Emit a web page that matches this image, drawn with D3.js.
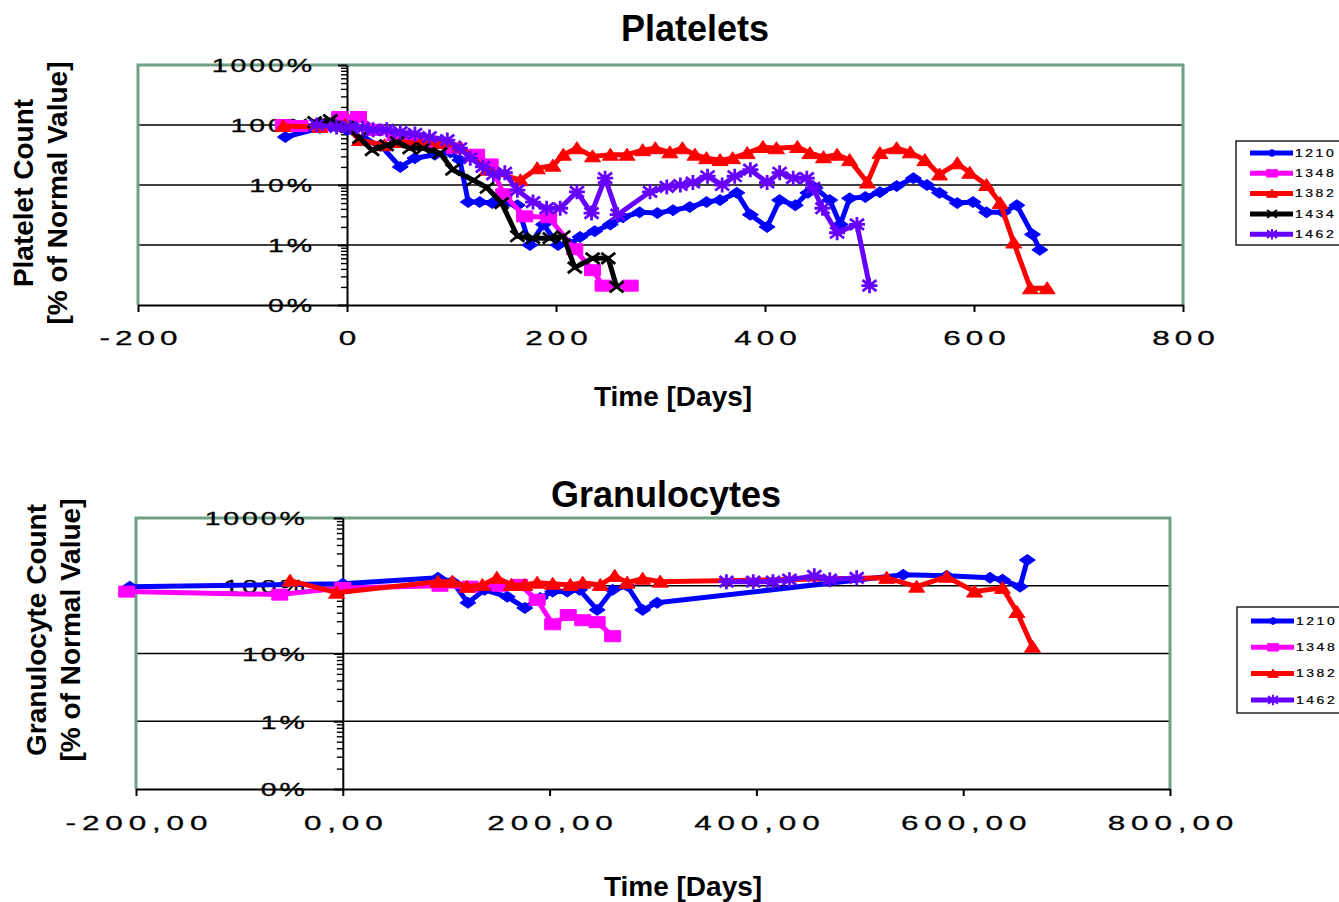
<!DOCTYPE html>
<html>
<head>
<meta charset="utf-8">
<script src="https://cdn.jsdelivr.net/npm/d3@7"></script>
<style>
  body { margin: 0; background: #fff; }
  svg { display: block; font-family: "Liberation Sans", Arial, sans-serif; }
</style>
</head>
<body>
<div id="chart"></div>
<script>
// platelet counts, [day, % of normal value]
const plt1210 = [[-59,63],[-26,89],[0,83],[17,56],[32,46],[51,20],[65,28],[84,32],[99,35],[108,26],[116,5.2],[127,5.2],[139,5.0],[151,5.0],[163,4.6],[175,1.0],[188,2.2],[202,1.0],[213,1.05],[223,1.36],[237,1.7],[252,2.2],[264,2.9],[280,3.5],[297,3.4],[312,3.8],[328,4.3],[344,5.2],[357,5.6],[373,7.4],[386,3.2],[402,2.0],[414,5.6],[429,4.6],[441,7.4],[448,9.0],[462,5.6],[472,2.2],[481,6.0],[496,6.3],[510,7.6],[526,9.6],[542,13],[555,10],[567,7.4],[584,5.0],[599,5.2],[612,3.5],[628,3.5],[641,4.6],[656,1.5],[663,0.83]];
const plt1348 = [[-61,100],[-45,96],[-26,100],[-7,136],[11,136],[27,83],[46,68],[65,56],[84,50],[103,41],[124,32],[137,22],[150,7],[170,3.0],[193,2.9],[218,0.85],[235,0.38],[245,0.21],[271,0.21]];
const plt1382 = [[-61,96],[-26,93],[-2,100],[12,56],[36,46],[51,52],[70,50],[89,50],[108,43],[134,18],[166,12],[182,19],[197,21],[207,32],[220,41],[235,30],[252,32],[268,32],[283,38],[295,41],[309,35],[321,41],[333,32],[344,28],[357,26],[369,28],[383,34],[398,43],[411,41],[431,43],[443,34],[456,29],[469,32],[481,26],[498,11],[510,34],[526,41],[539,35],[553,26],[567,15],[584,23],[596,16],[612,10],[625,5.0],[638,1.1],[654,0.19],[670,0.19]];
const plt1434 = [[-31,112],[-16,121],[0,93],[12,61],[24,38],[38,46],[48,52],[60,41],[73,41],[89,34],[101,18],[121,12],[134,9],[148,5.0],[163,1.4],[178,1.3],[194,1.3],[207,1.4],[218,0.42],[235,0.6],[250,0.6],[258,0.2]];
const plt1462 = [[-29,100],[-10,93],[3,93],[15,89],[25,83],[38,83],[51,76],[65,71],[79,63],[96,56],[108,41],[118,28],[130,20],[140,15],[151,16],[163,8.2],[178,5.2],[191,4.1],[204,4.1],[220,7.7],[234,3.4],[247,13],[259,3.2],[290,7.7],[306,9.3],[319,10],[331,11],[345,14],[359,10],[371,14],[386,18],[402,11],[414,16],[427,13],[440,13],[446,9],[455,4.1],[469,1.6],[488,2.2],[500,0.21]];

// granulocyte counts, [day, % of normal value]
const gran1210 = [[-206,97],[0,107],[92,131],[106,115],[121,56],[137,87],[159,69],[176,47],[191,66],[203,82],[217,82],[229,87],[246,44],[261,87],[275,100],[290,44],[304,56],[542,145],[584,140],[626,131],[638,123],[655,97],[662,240]];
const gran1348 = [[-209,82],[-61,74],[0,93],[94,100],[123,97],[152,100],[171,103],[188,62],[203,27],[218,37],[232,31],[246,29],[261,18]];
const gran1382 = [[-51,119],[-6,79],[92,115],[106,115],[120,97],[135,103],[149,131],[163,103],[176,103],[188,111],[203,107],[220,103],[232,111],[249,103],[263,140],[275,111],[290,127],[307,115],[526,131],[555,97],[584,136],[611,82],[638,93],[652,41],[667,12.6]];
const gran1462 = [[371,115],[397,115],[416,115],[432,123],[456,140],[471,123],[497,131]];

const seriesIds = ["1210", "1348", "1382", "1434", "1462"];
const seriesColors = ["#0000ff", "#ff00ff", "#ff0000", "#000000", "#6600ff"];
const seriesMarks = ["diamond", "square", "triangle", "cross", "star"];

const xTicks = [-200, 0, 200, 400, 600, 800];
const yTicks = [0.1, 1, 10, 100, 1000];
const yTickLabels = ["0%", "1%", "10%", "100%", "1000%"];

const width = 1339, height = 902;
const frameColor = "#6f9f85";

const svg = d3.select("#chart").append("svg")
  .attr("width", width)
  .attr("height", height);

// marker shapes, centred on the point
const markers = {
  diamond:  { d: "M-8,0L0,-5.5L8,0L0,5.5Z", filled: true },
  square:   { d: "M-8,-5.5H8V5.5H-8Z", filled: true },
  triangle: { d: "M-8,5.5L0,-6.5L8,5.5Z", filled: true },
  cross:    { d: "M-7,-5.5L7,5.5M-7,5.5L7,-5.5", filled: false },
  star:     { d: "M-7,-5.5L7,5.5M-7,5.5L7,-5.5M0,-7.5V7.5M-8,0H8", filled: false }
};

function addMarker(sel, mark, color, k) {
  const m = markers[mark];
  sel.append("path")
    .attr("d", m.d)
    .attr("transform", k ? `scale(${k})` : null)
    .attr("fill", m.filled ? color : "none")
    .attr("stroke", color)
    .attr("stroke-width", m.filled ? 1 : 2.8);
}

// wide, stretched label text like the original export
function stretch(sel, size, spacing, sx) {
  sel.attr("font-family", "'Liberation Sans', Arial, sans-serif")
    .attr("font-size", size)
    .attr("letter-spacing", spacing + "px")
    .attr("fill", "#000")
    .attr("stroke", "#000")
    .attr("stroke-width", 0.3)
    .attr("transform", `scale(${sx},1)`);
}

function drawPanel(p) {
  const x = d3.scaleLinear().domain([-200, 800]).range([p.left, p.right]);
  const y = d3.scaleLog().domain([0.1, 1000]).range([p.bottom, p.top]);
  const g = svg.append("g");

  // gridlines
  g.append("g").selectAll("line")
    .data([1, 10, 100])
    .join("line")
      .attr("x1", p.left).attr("x2", p.right)
      .attr("y1", d => y(d)).attr("y2", d => y(d))
      .attr("stroke", "#000")
      .attr("stroke-width", 1.6);

  // frame: left, top and right sides
  g.append("path")
    .attr("d", `M${p.left},${p.bottom}V${p.top}H${p.right}V${p.bottom}`)
    .attr("fill", "none")
    .attr("stroke", frameColor)
    .attr("stroke-width", 3);

  // x axis
  const xAxis = g.append("g")
    .attr("transform", `translate(0,${p.bottom})`)
    .call(d3.axisBottom(x).tickValues(xTicks).tickSize(7).tickSizeOuter(0).tickFormat(p.xFmt));
  xAxis.select(".domain").attr("stroke-width", 2);
  xAxis.selectAll(".tick line").attr("stroke-width", 2);
  xAxis.selectAll(".tick text")
    .call(stretch, 21, p.xSpacing, 1.5)
    .attr("y", p.xLabelY)
    .attr("dy", "0.36em")
    .attr("dx", p.xSpacing / 2);

  // minor log ticks
  const minor = [];
  [0.1, 1, 10, 100].forEach(b => { for (let k = 2; k <= 9; k++) minor.push(b * k); });
  const yMinor = g.append("g")
    .attr("transform", `translate(${x(0)},0)`)
    .call(d3.axisLeft(y).tickValues(minor).tickSize(6).tickFormat(""));
  yMinor.select(".domain").remove();
  yMinor.selectAll(".tick line").attr("stroke-width", 1.4);

  // y axis at day 0
  const yAxis = g.append("g")
    .attr("transform", `translate(${x(0)},0)`)
    .call(d3.axisLeft(y).tickValues(yTicks).tickSize(9).tickSizeOuter(0)
      .tickFormat((d, i) => yTickLabels[i]));
  yAxis.select(".domain").attr("stroke-width", 2);
  yAxis.selectAll(".tick text")
    .call(stretch, 19, 1.9, 1.5)
    .attr("x", -p.yLabelGap / 1.5 + 1.9)
    .attr("dy", "0.36em");
  yAxis.selectAll(".tick line").attr("stroke-width", 2);

  // series
  const line = d3.line().x(d => x(d[0])).y(d => y(d[1]));
  p.series.forEach(s => {
    g.append("path")
      .datum(s.data)
      .attr("d", line)
      .attr("fill", "none")
      .attr("stroke", s.color)
      .attr("stroke-width", 5)
      .attr("stroke-linejoin", "round");
    g.append("g").selectAll("g")
      .data(s.data)
      .join("g")
        .attr("transform", d => `translate(${x(d[0])},${y(d[1])})`)
        .each(function() { addMarker(d3.select(this), s.mark, s.color); });
  });

  // titles
  svg.append("text")
    .attr("x", p.titleX).attr("y", p.titleY)
    .attr("text-anchor", "middle")
    .attr("font-size", 36).attr("font-weight", "bold")
    .text(p.title);
  svg.append("text")
    .attr("x", p.xTitleX).attr("y", p.xTitleY)
    .attr("text-anchor", "middle")
    .attr("font-size", 28).attr("font-weight", "bold")
    .text("Time [Days]");
  p.yTitle.forEach((t, i) => {
    svg.append("text")
      .attr("transform", `translate(${p.yTitleX[i]},${p.yTitleY}) rotate(-90)`)
      .attr("text-anchor", "middle")
      .attr("font-size", 28).attr("font-weight", "bold")
      .text(t);
  });

  // legend
  const leg = svg.append("g").attr("transform", `translate(${p.legX},${p.legY})`);
  leg.append("rect")
    .attr("width", 120).attr("height", p.legH)
    .attr("fill", "#fff").attr("stroke", "#000").attr("stroke-width", 1.3);
  p.series.forEach((s, i) => {
    const row = leg.append("g").attr("transform", `translate(0,${p.legRow0 + i * p.legStep})`);
    row.append("line")
      .attr("x1", 14).attr("x2", 57)
      .attr("stroke", s.color).attr("stroke-width", 5);
    row.append("g").attr("transform", "translate(36,0)")
      .call(sel => addMarker(sel, s.mark, s.color, 0.7));
    row.append("text")
      .attr("x", 59 / 1.4).attr("dy", "0.36em")
      .call(stretch, 10, 1.8, 1.4)
      .attr("stroke-width", 0.2)
      .text(s.id);
  });
}

function pick(ids, datas) {
  return ids.map((id, i) => {
    const k = seriesIds.indexOf(id);
    return { id: id, data: datas[i], color: seriesColors[k], mark: seriesMarks[k] };
  });
}

drawPanel({
  left: 138, right: 1183, top: 65, bottom: 305,
  xFmt: d => String(d), xLabelY: 32, xSpacing: 3.3, yLabelGap: 35,
  title: "Platelets", titleX: 695, titleY: 41,
  xTitleX: 673, xTitleY: 406,
  yTitle: ["Platelet Count", "[% of Normal Value]"], yTitleX: [33, 67], yTitleY: 193,
  legX: 1236, legY: 141, legH: 104, legRow0: 12, legStep: 20.3,
  series: pick(seriesIds, [plt1210, plt1348, plt1382, plt1434, plt1462])
});

drawPanel({
  left: 136, right: 1170, top: 518, bottom: 789,
  xFmt: d => d.toFixed(2).replace(".", ","), xLabelY: 33, xSpacing: 3.9, yLabelGap: 38,
  title: "Granulocytes", titleX: 666, titleY: 507,
  xTitleX: 683, xTitleY: 896,
  yTitle: ["Granulocyte Count", "[% of Normal Value]"], yTitleX: [46, 80], yTitleY: 630,
  legX: 1237, legY: 607, legH: 106, legRow0: 14, legStep: 26.3,
  series: pick(["1210", "1348", "1382", "1462"], [gran1210, gran1348, gran1382, gran1462])
});
</script>
</body>
</html>
